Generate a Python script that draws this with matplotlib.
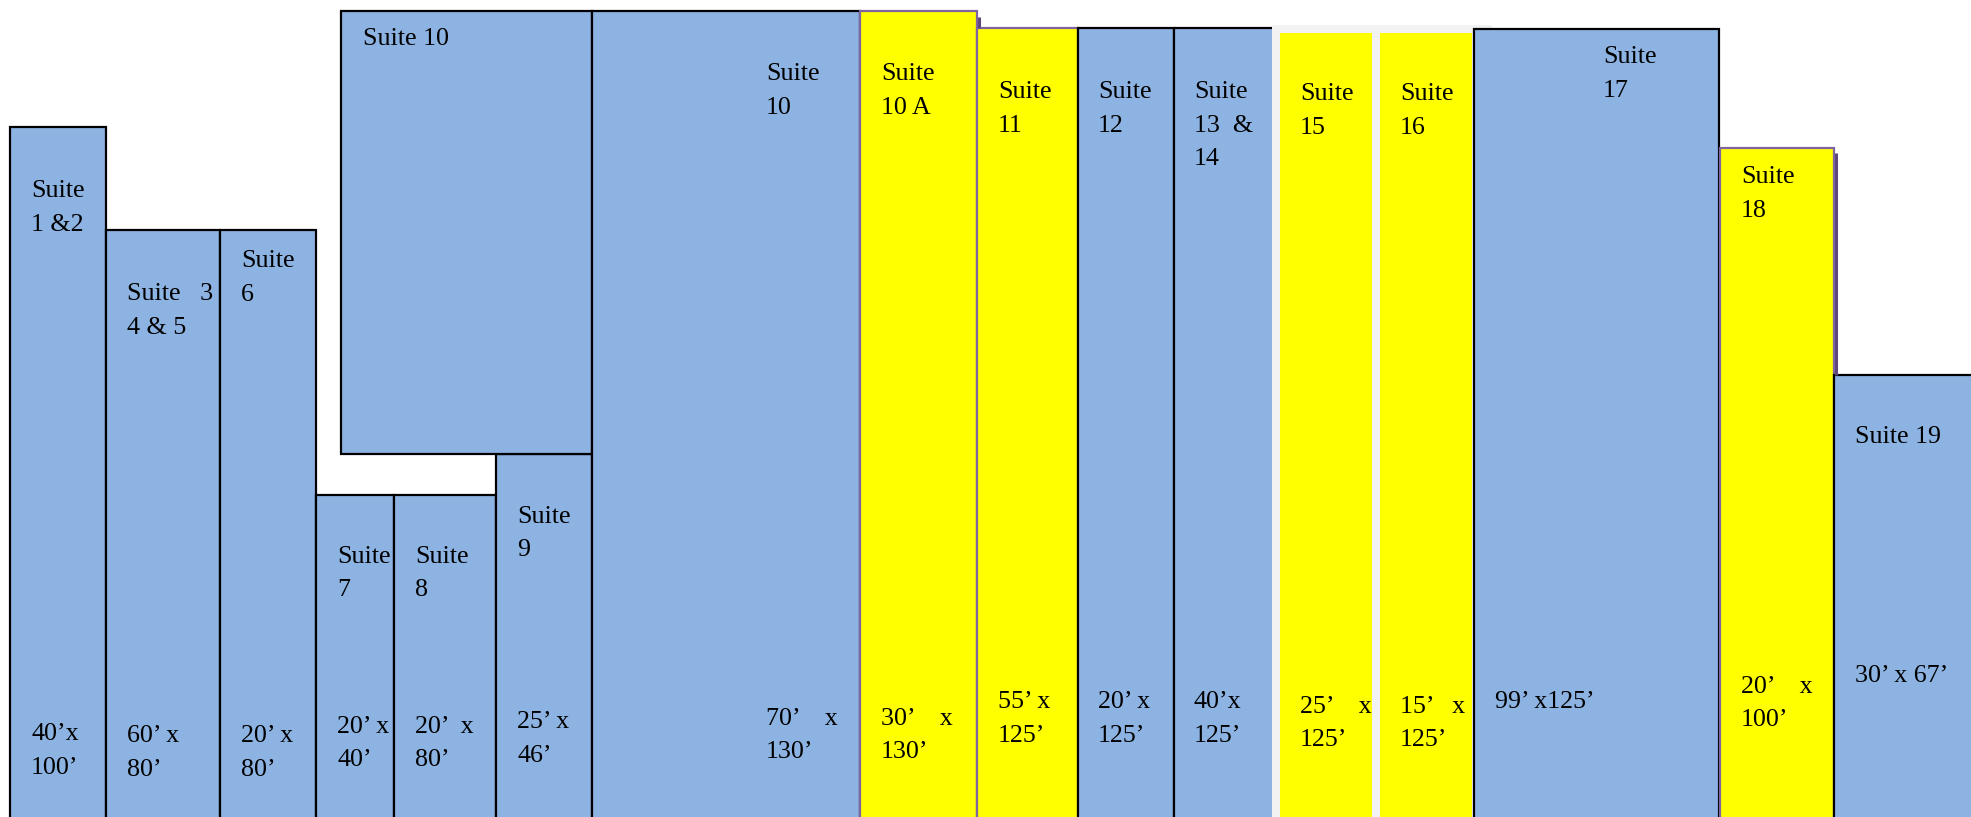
import matplotlib
matplotlib.use("Agg")
import matplotlib.pyplot as plt

# suite labels and sizes, left to right along the building front
suite_names = ["Suite\n1 &2", "Suite   3\n4 & 5", "Suite\n6", "Suite\n7", "Suite\n8",
               "Suite\n9", "Suite 10", "Suite\n10", "Suite\n10 A", "Suite\n11",
               "Suite\n12", "Suite\n13  &\n14", "Suite\n15", "Suite\n16", "Suite\n17",
               "Suite\n18", "Suite 19"]
suite_sizes = ["40\u2019x\n100\u2019", "60\u2019 x\n80\u2019", "20\u2019 x\n80\u2019",
               "20\u2019 x\n40\u2019", "20\u2019  x\n80\u2019", "25\u2019 x\n46\u2019", "",
               "70\u2019    x\n130\u2019", "30\u2019    x\n130\u2019", "55\u2019 x\n125\u2019",
               "20\u2019 x\n125\u2019", "40\u2019x\n125\u2019", "25\u2019    x\n125\u2019",
               "15\u2019   x\n125\u2019", "99\u2019 x125\u2019", "20\u2019    x\n100\u2019",
               "30\u2019 x 67\u2019"]
# yellow = highlighted suites
highlight = [0, 0, 0, 0, 0, 0, 0, 0, 1, 1, 0, 0, 1, 1, 0, 1, 0]

# plan layout (drawing units, y measured up from the ground line)
x_left = [10, 106, 220, 316, 394, 496, 341, 592, 860, 977, 1078, 1174, 1280, 1380, 1474, 1720, 1834]
x_right = [106, 220, 316, 394, 496, 592, 592, 860, 977, 1078, 1174, 1272, 1372, 1472, 1719, 1834, 1985]
y_top = [690, 587, 587, 322, 322, 363, 806, 806, 806, 789, 789, 789, 784, 784, 788, 669, 442]
y_bottom = [-5, -5, -5, -5, -5, -5, 363, -5, -5, -5, -5, -5, -5, -5, -5, -5, -5]
name_dx = [21, 21, 21, 21, 21, 21, 22, 174, 21, 21, 20, 20, 20, 20, 129, 21, 21]
name_y = [620, 517, 550, 254, 254, 294, 772, 737, 737, 719, 719, 719, 717, 717, 754, 634, 374]
size_dx = [21, 21, 21, 21, 21, 21, 0, 174, 21, 21, 20, 20, 20, 20, 21, 21, 21]
size_y = [77, 75, 75, 84, 84, 89, 0, 92, 92, 109, 109, 109, 104, 104, 109, 124, 135]
line_step = 33.5

W, H = 1971, 817
BLUE = "#8db3e2"
YELLOW = "#ffff00"
PURPLE = "#8064a2"
SHADOW = "#5f497a"
GREY = "#f2f2f2"

plt.rcParams['font.family'] = ['Liberation Serif', 'DejaVu Serif']

fig = plt.figure(figsize=(W / 100, H / 100), dpi=100)
ax = fig.add_axes([0, 0, 1, 1])
ax.set_xlim(0, W)
ax.set_ylim(0, H)
ax.axis('off')

# light grey backing behind suites 15 and 16
ax.bar(1272, 792 + 5, width=1492 - 1272, bottom=-5, align='edge', color=GREY, lw=0, zorder=1)

widths = [r - l for l, r in zip(x_left, x_right)]
heights = [t - b for t, b in zip(y_top, y_bottom)]

patches = []
for i in range(len(suite_names)):
    face = YELLOW if highlight[i] else BLUE
    if i in (11, 12, 13):
        edge, lw = 'none', 0
    elif highlight[i]:
        edge, lw = PURPLE, 1.6
    else:
        edge, lw = 'black', 1.6
    bars = ax.bar(x_left[i], heights[i], width=widths[i], bottom=y_bottom[i],
                  align='edge', color=face, edgecolor=edge, linewidth=lw, zorder=2 + i * 0.01)
    patches.append(bars.patches[0])

# suite 13 & 14 has only top and left walls, it runs straight into the grey strip
ax.hlines(y_top[11], x_left[11], x_right[11], color='black', lw=1.6, zorder=3)
ax.vlines(x_left[11], y_bottom[11], y_top[11], color='black', lw=1.6, zorder=3)

# little drop shadows on the purple-outlined suites
ax.vlines(x_right[8] + 2, y_top[9], y_top[8] - 6, color=SHADOW, lw=2.2, zorder=3)
ax.vlines(x_right[15] + 2, y_top[16], y_top[15] - 5, color=SHADOW, lw=2.2, zorder=3)

fs = 18.7
for i in range(len(suite_names)):
    for k, line in enumerate(suite_names[i].split("\n")):
        t = ax.text(x_left[i] + name_dx[i], name_y[i] - k * line_step, line,
                    fontsize=fs, ha='left', va='baseline', zorder=4)
        t.set_clip_path(patches[i])
    if suite_sizes[i]:
        for k, line in enumerate(suite_sizes[i].split("\n")):
            t = ax.text(x_left[i] + size_dx[i], size_y[i] - k * line_step, line,
                        fontsize=fs, ha='left', va='baseline', zorder=4)
            t.set_clip_path(patches[i])

fig.savefig("out.png", dpi=100)
